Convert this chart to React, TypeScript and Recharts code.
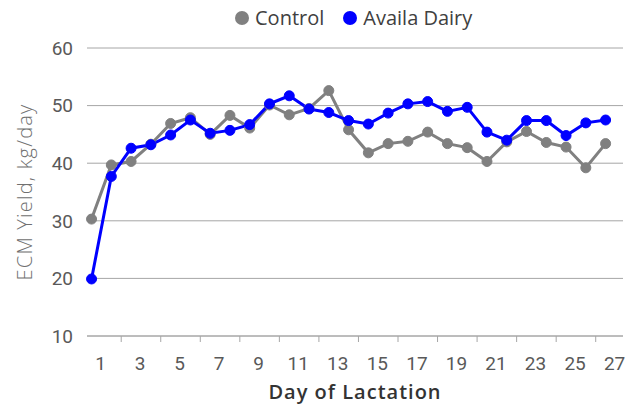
import { LineChart, Line, XAxis, YAxis, CartesianGrid } from "recharts";

const days = [1, 2, 3, 4, 5, 6, 7, 8, 9, 10, 11, 12, 13, 14, 15, 16, 17, 18, 19, 20, 21, 22, 23, 24, 25, 26, 27];
const control = [30.3, 39.7, 40.3, 43.3, 46.9, 47.9, 45.0, 48.3, 46.1, 50.1, 48.4, 49.5, 52.6, 45.8, 41.8, 43.4, 43.8, 45.4, 43.4, 42.7, 40.3, 43.7, 45.5, 43.6, 42.8, 39.2, 43.4];
const availa = [19.9, 37.7, 42.6, 43.2, 44.9, 47.5, 45.2, 45.7, 46.7, 50.3, 51.7, 49.4, 48.8, 47.4, 46.8, 48.7, 50.3, 50.7, 49.0, 49.7, 45.4, 44.0, 47.4, 47.4, 44.8, 47.0, 47.5];
const yTicks = [10, 20, 30, 40, 50, 60];
const dayLabels = [1, 3, 5, 7, 9, 11, 13, 15, 17, 19, 21, 23, 25, 27];
const tickMarks = [2.5, 4.5, 6.5, 8.5, 10.5, 12.5, 14.5, 16.5, 18.5, 20.5, 22.5, 24.5, 26.5];

const series = [
  { key: "control", name: "Control", color: "#808080" },
  { key: "availa", name: "Availa Dairy", color: "#0000ff" },
];

const data = days.map((d, i) => ({ day: d, control: control[i], availa: availa[i] }));

const tickFont = { fontFamily: "'Liberation Sans Narrow', Roboto, sans-serif", fontSize: 19 };

// labels on odd days, small tick marks between every second pair of days
function DayTick(props: any) {
  const { x, y, payload } = props;
  if (payload.value % 1 !== 0) {
    return <line x1={x} x2={x} y1={y - 21} y2={y - 15} stroke="#a6a6a6" strokeWidth={1} />;
  }
  return (
    <text x={x + 9} y={y} dy="0.71em" textAnchor="middle" fill="#595959" style={tickFont}>
      {payload.value}
    </text>
  );
}

export default function App() {
  return (
    <div style={{ position: "relative", width: 638, height: 405, background: "#fff" }}>
      <style>{`body{margin:0}`}</style>
      <div style={{
        position: "absolute", top: 4, left: 235, display: "flex", alignItems: "center",
        gap: 19, fontFamily: "Open Sans", fontSize: 20, color: "#404040", zIndex: 1,
      }}>
        {series.map((s) => (
          <div key={s.key} style={{ display: "flex", alignItems: "center", gap: 6 }}>
            <span style={{ width: 14, height: 14, borderRadius: 7, background: s.color, display: "inline-block" }} />
            <span>{s.name}</span>
          </div>
        ))}
      </div>
      <LineChart width={638} height={405} data={data} margin={{ top: 48, right: 15, bottom: 0, left: 0 }}>
        <CartesianGrid vertical={false} stroke="#a6a6a6" />
        <XAxis
          dataKey="day"
          type="number"
          domain={[0.77, 27.88]}
          ticks={[...dayLabels, ...tickMarks].sort((a, b) => a - b)}
          interval={0}
          height={69}
          stroke="#a6a6a6"
          tickLine={false}
          tickSize={6}
          tickMargin={15}
          tick={<DayTick />}
          label={{
            value: "Day of Lactation", position: "insideBottom", offset: 6,
            style: { fontFamily: "Open Sans", fontWeight: 600, fontSize: 20, letterSpacing: 1, fill: "#333" },
          }}
        />
        <YAxis
          domain={[10, 60]}
          ticks={yTicks}
          width={87}
          axisLine={false}
          tickLine={false}
          tickMargin={8}
          tick={{ fill: "#595959", ...tickFont }}
          label={{
            value: "ECM Yield, kg/day", angle: -90, position: "insideLeft", offset: 25,
            style: { textAnchor: "middle", fontFamily: "Open Sans", fontWeight: 300, fontSize: 20, letterSpacing: 1.2, fill: "#707070" },
          }}
        />
        {series.map((s) => (
          <Line
            key={s.key}
            dataKey={s.key}
            name={s.name}
            stroke={s.color}
            strokeWidth={3}
            dot={{ r: 5, fill: s.color, stroke: s.color, strokeWidth: 1 }}
            activeDot={false}
            isAnimationActive={false}
          />
        ))}
      </LineChart>
    </div>
  );
}
